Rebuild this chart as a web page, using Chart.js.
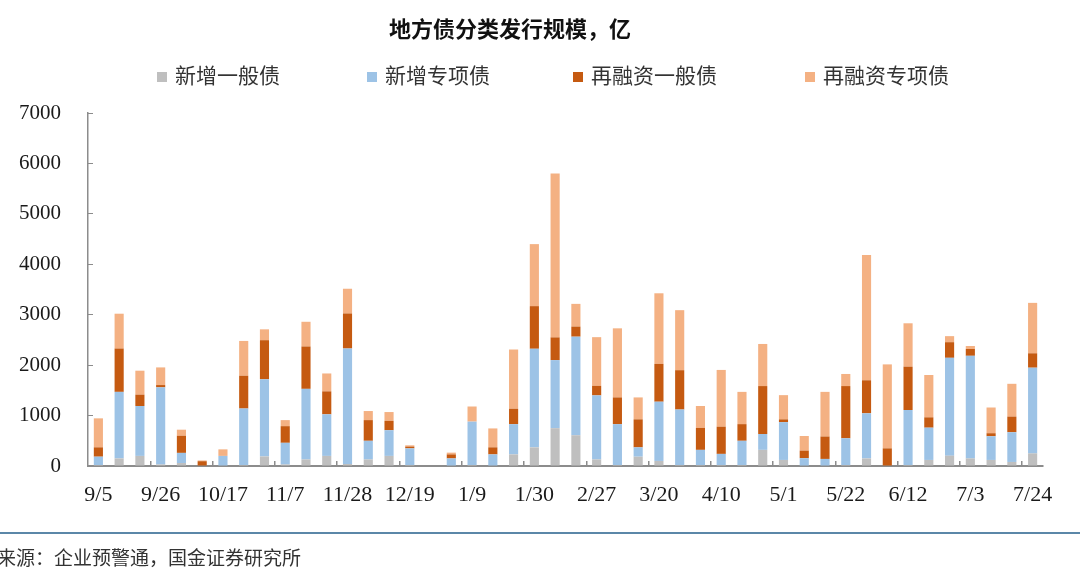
<!DOCTYPE html>
<html>
<head>
<meta charset="utf-8">
<script src="https://cdn.jsdelivr.net/npm/chart.js@4"></script>
<style>
  html, body { margin: 0; padding: 0; background: #fff; }
  #wrap { position: relative; width: 1080px; height: 573px; overflow: hidden; }
  #chart { position: absolute; left: 0; top: 0; }
  .title { position: absolute; left: 0; width: 1020px; top: 12px; text-align: center;
           font: bold 22px "Noto Sans CJK SC", sans-serif; color: #111; line-height: 30px; }
  .legend-item { position: absolute; top: 59px; height: 26px; line-height: 26px;
                 font: 21px "Noto Sans CJK SC", sans-serif; color: #333; white-space: nowrap; }
  .legend-item i { display: inline-block; width: 10px; height: 10px; margin-right: 8px; vertical-align: 1px; }
  .rule { position: absolute; left: 0; width: 1080px; top: 532px; height: 2px; background: #5b87a8; }
  .source { position: absolute; left: -3px; top: 543px; font: 19px "Noto Sans CJK SC", sans-serif;
            color: #333; line-height: 28px; white-space: nowrap; }
</style>
</head>
<body>
<div id="wrap">
  <canvas id="chart" width="1080" height="573"></canvas>
  <div class="title">地方债分类发行规模，亿</div>
  <div id="legend"></div>
  <div class="rule"></div>
  <div class="source">来源：企业预警通，国金证券研究所</div>
</div>
<script>
// weekly issue dates
const weeks = ["9/5", "9/12", "9/19", "9/26", "10/3", "10/10", "10/17", "10/24", "10/31",
  "11/7", "11/14", "11/21", "11/28", "12/5", "12/12", "12/19", "12/26", "1/2", "1/9",
  "1/16", "1/23", "1/30", "2/13", "2/20", "2/27", "3/6", "3/13", "3/20", "3/27", "4/3",
  "4/10", "4/17", "4/24", "5/1", "5/8", "5/15", "5/22", "5/29", "6/5", "6/12", "6/19",
  "6/26", "7/3", "7/10", "7/17", "7/24"];

// 亿元
const newGeneral = [20, 150, 200, 30, 60, 0, 10, 20, 190, 30, 130, 200, 40, 130, 200, 20,
  0, 10, 20, 10, 230, 370, 750, 610, 130, 20, 185, 100, 20, 20, 20, 20, 320, 120, 10, 10,
  20, 150, 0, 20, 120, 205, 150, 120, 80, 250];
const newSpecial = [165, 1320, 990, 1530, 200, 0, 190, 1120, 1530, 430, 1400, 825, 2290,
  370, 510, 330, 0, 140, 860, 220, 600, 1955, 1350, 1955, 1270, 810, 185, 1175, 1100, 300,
  220, 480, 315, 750, 145, 130, 530, 895, 0, 1090, 640, 1940, 2035, 470, 590, 1700];
const refiGeneral = [185, 860, 225, 45, 340, 95, 0, 650, 775, 330, 840, 455, 695, 410, 185,
  35, 0, 80, 0, 140, 305, 845, 450, 200, 190, 530, 555, 750, 780, 435, 540, 330, 950, 55,
  150, 445, 1035, 655, 350, 860, 205, 310, 135, 60, 310, 285];
const refiSpecial = [575, 690, 475, 350, 120, 15, 130, 690, 215, 120, 490, 355, 490, 180,
  175, 25, 0, 35, 300, 375, 1175, 1230, 3250, 450, 965, 1370, 435, 1400, 1190, 435, 1125,
  640, 835, 480, 290, 885, 240, 2485, 1665, 860, 840, 120, 60, 510, 650, 1000];

const yTicks = [0, 1000, 2000, 3000, 4000, 5000, 6000, 7000];

const series = [
  { label: "新增一般债", data: newGeneral, color: "#bfbfbf" },
  { label: "新增专项债", data: newSpecial, color: "#9dc3e6" },
  { label: "再融资一般债", data: refiGeneral, color: "#c55a11" },
  { label: "再融资专项债", data: refiSpecial, color: "#f4b183" }
];

// legend
const legendX = [157, 367, 573, 805];
const legendEl = document.getElementById("legend");
series.forEach((s, i) => {
  const item = document.createElement("div");
  item.className = "legend-item";
  item.style.left = legendX[i] + "px";
  item.innerHTML = '<i style="background:' + s.color + '"></i>' + s.label;
  legendEl.appendChild(item);
});

Chart.defaults.font.family = "'Liberation Serif', 'Times New Roman', serif";
Chart.defaults.color = "#1a1a1a";

new Chart(document.getElementById("chart"), {
  type: "bar",
  data: {
    labels: weeks,
    datasets: series.map(s => ({
      label: s.label,
      data: s.data,
      backgroundColor: s.color,
      borderWidth: 0,
      barPercentage: 0.44,
      categoryPercentage: 1
    }))
  },
  options: {
    responsive: false,
    animation: false,
    layout: { padding: { left: 0, right: 37, top: 113, bottom: 67 } },
    plugins: {
      legend: { display: false },
      tooltip: { enabled: false }
    },
    scales: {
      x: {
        stacked: true,
        offset: true,
        grid: {
          offset: true,
          drawOnChartArea: false,
          tickLength: -5,
          lineWidth: 1.5,
          color: c => (c.index % 3 === 0 && c.index > 0) ? "#8c8c8c" : "rgba(0,0,0,0)"
        },
        border: { color: "#8c8c8c", width: 2 },
        ticks: {
          autoSkip: false,
          maxRotation: 0,
          padding: 21,
          font: { size: 22 },
          callback: (v, i) => (i % 3 === 0 ? weeks[i] : "")
        },
        afterFit: s => { s.height = 40; }
      },
      y: {
        stacked: true,
        min: 0,
        max: 7000,
        afterBuildTicks: s => { s.ticks = yTicks.map(v => ({ value: v })); },
        ticks: { padding: 32, font: { size: 21 }, callback: v => String(v) },
        grid: { drawOnChartArea: false, tickLength: -5, color: "#8c8c8c" },
        border: { color: "#8c8c8c", width: 1.5 },
        afterFit: s => { s.width = 88; }
      }
    }
  }
});
</script>
</body>
</html>
